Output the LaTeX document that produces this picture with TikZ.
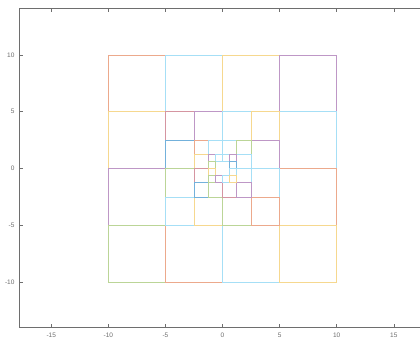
\documentclass[tikz,border=0pt]{standalone}
\usepackage{fontspec}
\setmainfont{Liberation Sans}
\definecolor{mo}{RGB}{217,83,25}
\definecolor{mlb}{RGB}{77,190,238}
\definecolor{my}{RGB}{237,177,32}
\definecolor{mp}{RGB}{126,47,142}
\definecolor{mg}{RGB}{119,172,48}
\definecolor{mb}{RGB}{0,114,189}
\definecolor{mdr}{RGB}{162,20,47}
\definecolor{axgray}{RGB}{110,110,110}
\tikzset{
  sqo/.style={draw=mo!50,line width=0.7pt},
  sqlb/.style={draw=mlb!50,line width=0.7pt},
  sqy/.style={draw=my!50,line width=0.7pt},
  sqp/.style={draw=mp!50,line width=0.7pt},
  sqg/.style={draw=mg!50,line width=0.7pt},
  sqb/.style={draw=mb!55,line width=0.7pt},
  sqdr/.style={draw=mdr!45,line width=0.7pt},
  axline/.style={draw=axgray,line width=0.6pt},
  ticklbl/.style={text=axgray,font=\fontsize{6.5}{7}\selectfont,inner sep=0pt}
}
\newcommand{\sqr}[4]{\draw[#4] (#1,#2) rectangle ++(#3,#3);}
\begin{document}
\begin{tikzpicture}[x=1pt,y=1pt]
\useasboundingbox (0,0) rectangle (420,339);
\fill[white] (0,0) rectangle (420,339);
\begin{scope}[shift={(222.5,170.5)},x=11.42pt,y=11.35pt]
% level 1
\sqr{-10}{5}{5}{sqo}\sqr{-5}{5}{5}{sqlb}\sqr{0}{5}{5}{sqy}\sqr{5}{5}{5}{sqp}
\sqr{-10}{0}{5}{sqy}\sqr{5}{0}{5}{sqlb}
\sqr{-10}{-5}{5}{sqp}\sqr{5}{-5}{5}{sqo}
\sqr{-10}{-10}{5}{sqg}\sqr{-5}{-10}{5}{sqo}\sqr{0}{-10}{5}{sqlb}\sqr{5}{-10}{5}{sqy}
% level 2
\sqr{-5}{2.5}{2.5}{sqdr}\sqr{-2.5}{2.5}{2.5}{sqp}\sqr{0}{2.5}{2.5}{sqlb}\sqr{2.5}{2.5}{2.5}{sqy}
\sqr{-5}{0}{2.5}{sqb}\sqr{2.5}{0}{2.5}{sqp}
\sqr{-5}{-2.5}{2.5}{sqg}\sqr{2.5}{-2.5}{2.5}{sqlb}
\sqr{-5}{-5}{2.5}{sqlb}\sqr{-2.5}{-5}{2.5}{sqy}\sqr{0}{-5}{2.5}{sqg}\sqr{2.5}{-5}{2.5}{sqo}
% level 3
\sqr{-2.5}{1.25}{1.25}{sqo}\sqr{-1.25}{1.25}{1.25}{sqlb}\sqr{0}{1.25}{1.25}{sqlb}\sqr{1.25}{1.25}{1.25}{sqg}
\sqr{-2.5}{0}{1.25}{sqy}\sqr{1.25}{0}{1.25}{sqlb}
\sqr{-2.5}{-1.25}{1.25}{sqdr}\sqr{1.25}{-1.25}{1.25}{sqlb}
\sqr{-2.5}{-2.5}{1.25}{sqb}\sqr{-1.25}{-2.5}{1.25}{sqg}\sqr{0}{-2.5}{1.25}{sqdr}\sqr{1.25}{-2.5}{1.25}{sqp}
% level 4
\sqr{-1.25}{0.625}{0.625}{sqp}\sqr{-0.625}{0.625}{0.625}{sqlb}\sqr{0}{0.625}{0.625}{sqlb}\sqr{0.625}{0.625}{0.625}{sqp}
\sqr{-1.25}{0}{0.625}{sqg}\sqr{0.625}{0}{0.625}{sqb}
\sqr{-1.25}{-0.625}{0.625}{sqy}\sqr{0.625}{-0.625}{0.625}{sqlb}
\sqr{-1.25}{-1.25}{0.625}{sqg}\sqr{-0.625}{-1.25}{0.625}{sqp}\sqr{0}{-1.25}{0.625}{sqlb}\sqr{0.625}{-1.25}{0.625}{sqy}
% axes
\coordinate (tl) at (-17.78,14.07);
\coordinate (bl) at (-17.78,-13.99);
\coordinate (tr) at (17.3,14.07);
\coordinate (br) at (17.3,-13.99);
\draw[axline] (tr) -- (tl) -- (bl) -- (br);
\foreach \v in {-15,-10,-5,0,5,10,15}{
  \draw[axline] (\v,-13.99) -- ++(0,0.28);
  \draw[axline] (\v,14.07) -- ++(0,-0.28);
  \node[ticklbl,anchor=north] at (\v,-14.5) {\v};
}
\foreach \v in {-10,-5,0,5,10}{
  \draw[axline] (-17.78,\v) -- ++(0.28,0);
  \node[ticklbl,anchor=east] at (-18.2,\v) {\v};
}
\end{scope}
\end{tikzpicture}
\end{document}
